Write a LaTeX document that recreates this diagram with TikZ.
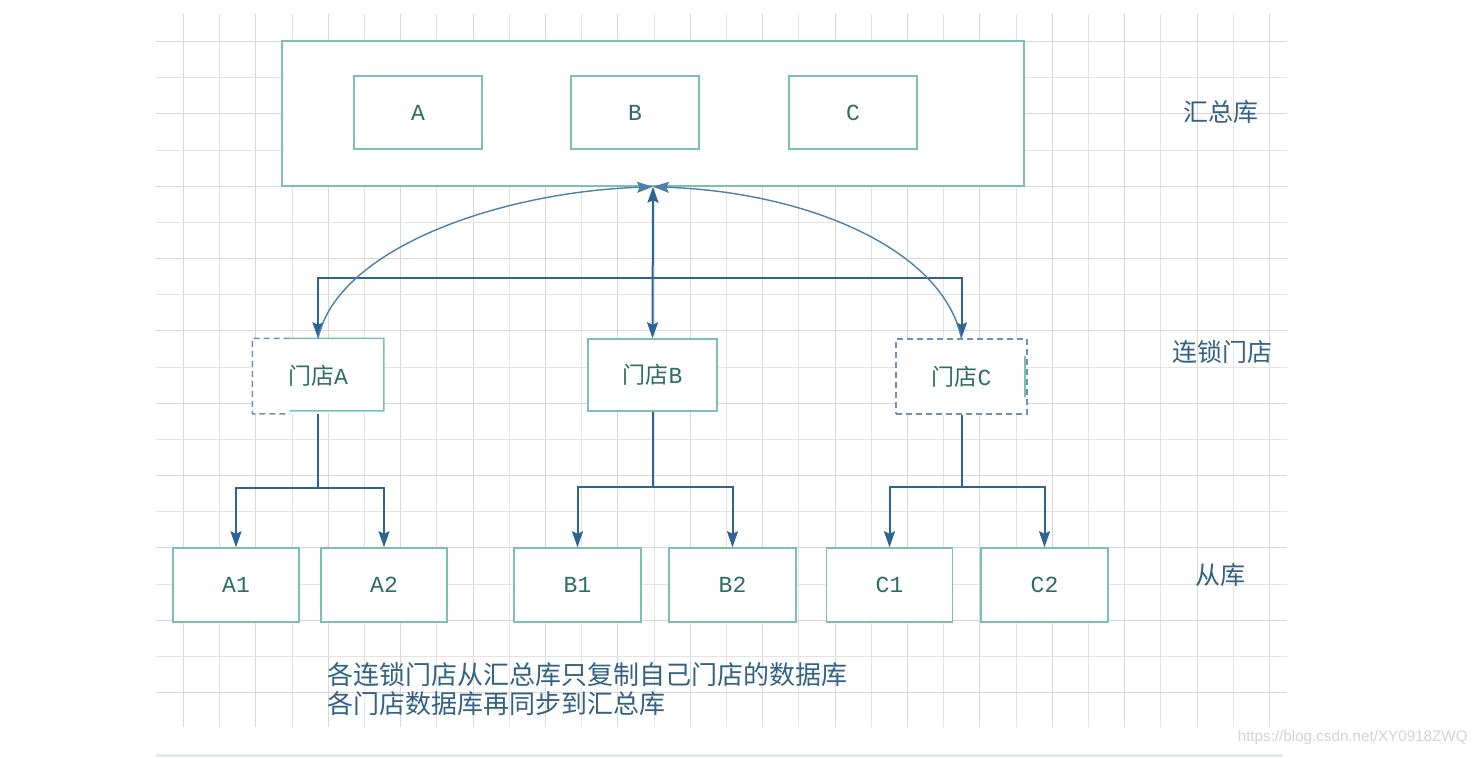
\documentclass[tikz,border=0pt]{standalone}
\usepackage{fontspec}
\newfontfamily\cjk{Noto Sans CJK SC}
\newfontfamily\mono{Liberation Mono}
\newfontfamily\wmfont{Liberation Sans}
\usetikzlibrary{arrows.meta,calc}
\definecolor{gridminor}{RGB}{228,228,228}
\definecolor{gridmajor}{RGB}{216,216,216}
\definecolor{boxline}{RGB}{125,192,178}
\definecolor{boxtext}{RGB}{45,110,95}
\definecolor{arrowcol}{RGB}{45,100,150}
\definecolor{curvecol}{RGB}{75,128,170}
\definecolor{dashcol}{RGB}{110,145,185}
\definecolor{labelcol}{RGB}{50,98,132}
\definecolor{wmcol}{RGB}{212,212,212}
\definecolor{barcol}{RGB}{230,234,238}
\tikzset{
  boxnode/.style={draw=boxline, line width=0.75pt, fill=white, text=boxtext,
    inner sep=0pt, font=\mono\fontsize{11.5pt}{13pt}\selectfont},
  dashnode/.style={boxnode, draw=dashcol, dash pattern=on 3pt off 2pt},
  dashline/.style={draw=dashcol, line width=0.75pt, dash pattern=on 3pt off 2pt},
  solidline/.style={draw=boxline, line width=0.75pt},
  sidelabel/.style={text=labelcol, font=\cjk\fontsize{12.5pt}{15pt}\selectfont, inner sep=0pt},
  tip/.style={},
  arr/.style={draw=arrowcol, line width=1pt, -{Stealth[length=8pt,width=5.5pt,inset=1.3pt]}},
  arrboth/.style={draw=arrowcol, line width=1pt, {Stealth[length=8pt,width=5.5pt,inset=1.3pt]}-{Stealth[length=8pt,width=5.5pt,inset=1.3pt]}},
  conn/.style={draw=arrowcol, line width=1pt},
  curvearr/.style={draw=curvecol, line width=0.7pt, -{Stealth[length=8pt,width=5.5pt,inset=1.3pt]}},
}
\begin{document}
\begin{tikzpicture}[x=0.5pt, y=-0.5pt]
% canvas
\fill[white] (0,0) rectangle (1477,757);
\useasboundingbox (0,0) rectangle (1477,757);
% grid
\foreach \i in {0,...,30}{
  \pgfmathsetmacro{\gx}{round(183+36.2*\i)+0.5}
  \pgfmathtruncatemacro{\ev}{mod(\i,2)}
  \ifnum\ev=0
    \draw[gridmajor, line width=0.5pt] (\gx,14) -- (\gx,727);
  \else
    \draw[gridminor, line width=0.5pt] (\gx,14) -- (\gx,727);
  \fi
}
\foreach \j in {0,...,18}{
  \pgfmathsetmacro{\gy}{round(41+36.17*\j)+0.5}
  \pgfmathtruncatemacro{\ev}{mod(\j,2)}
  \ifnum\ev=0
    \draw[gridmajor, line width=0.5pt] (156,\gy) -- (1287,\gy);
  \else
    \draw[gridminor, line width=0.5pt] (156,\gy) -- (1287,\gy);
  \fi
}
\draw[barcol, line width=1.5pt] (156,755) -- (1283,755);

% top summary box
\node[boxnode, minimum width=371pt, minimum height=72.5pt] (big) at (653,113.5) {};
\node[boxnode, minimum width=64pt, minimum height=36.5pt] (sA) at (418,112.5) {A};
\node[boxnode, minimum width=64pt, minimum height=36.5pt] (sB) at (635,112.5) {B};
\node[boxnode, minimum width=64pt, minimum height=36.5pt] (sC) at (853,112.5) {C};

% stores
\node[boxnode, draw=none, minimum width=65pt, minimum height=37pt] (mA) at (318,376) {{\cjk 门店}A};
\draw[dashline] ($(mA.north west)!0.285!(mA.north east)$) -- (mA.north west) -- (mA.south west) -- ($(mA.south west)!0.285!(mA.south east)$);
\draw[solidline] ($(mA.north west)!0.285!(mA.north east)$) -- (mA.north east) -- ($(mA.south east)+(0,-3)$) -- ($(mA.south west)!0.285!(mA.south east)+(0,-3)$);
\node[boxnode, minimum width=64.5pt, minimum height=36pt] (mB) at (652.5,375) {{\cjk 门店}B};
\node[dashnode, minimum width=65.5pt, minimum height=37.5pt] (mC) at (961.5,376.5) {{\cjk 门店}C};
\draw[solidline] ($(mC.north east)+(-3,18)$) -- ($(mC.south east)+(-3,-18)$);

% slaves
\node[boxnode, minimum width=63pt, minimum height=37pt] (A1) at (236,585) {A1};
\node[boxnode, minimum width=63pt, minimum height=37pt] (A2) at (384,585) {A2};
\node[boxnode, minimum width=63.5pt, minimum height=37pt] (B1) at (577.5,585) {B1};
\node[boxnode, minimum width=63.5pt, minimum height=37pt] (B2) at (732.5,585) {B2};
\node[boxnode, minimum width=63pt, minimum height=37pt] (C1) at (889.5,585) {C1};
\node[boxnode, minimum width=63.5pt, minimum height=37pt] (C2) at (1044.5,585) {C2};

% side labels
\node[sidelabel] (l1) at (1221,112) {汇总库};
\node[sidelabel] (l2) at (1222,352) {连锁门店};
\node[sidelabel] (l3) at (1220,575) {从库};

% bus between stores and summary
\coordinate (busL) at (mA.north |- 0,278);
\coordinate (busR) at (mC.north |- 0,278);
\draw[arrboth] (mA.north) -- (busL) -- (busR) -- (mC.north);
\draw[arrboth] (big.south) -- (mB.north);
% curves up to summary
\draw[curvearr] (mA.north) .. controls (338,248) and (500,192) .. (big.south);
\draw[curvearr] (mC.north) .. controls (942,248) and (806,192) .. (big.south);

% trees to slaves
\path (mA.south) ++(0,74) coordinate (jA);
\path (mB.south) ++(0,75) coordinate (jB);
\path (mC.south) ++(0,72) coordinate (jC);
\draw[conn] (mA.south) -- (jA);
\draw[arr] (jA) -| (A1.north);
\draw[arr] (jA) -| (A2.north);
\draw[conn] (mB.south) -- (jB);
\draw[arr] (jB) -| (B1.north);
\draw[arr] (jB) -| (B2.north);
\draw[conn] (mC.south) -- (jC);
\draw[arr] (jC) -| (C1.north);
\draw[arr] (jC) -| (C2.north);

% note
\node[anchor=west, align=left, text=labelcol, inner sep=0pt,
  font=\cjk\fontsize{13pt}{14.5pt}\selectfont] (note) at (327,689.5)
  {各连锁门店从汇总库只复制自己门店的数据库\\各门店数据库再同步到汇总库};

% watermark
\node[anchor=east, text=wmcol, inner sep=0pt, font=\wmfont\fontsize{7.6pt}{9pt}\selectfont] (wm) at (1468,738) {https://blog.csdn.net/XY0918ZWQ};
\end{tikzpicture}
\end{document}
